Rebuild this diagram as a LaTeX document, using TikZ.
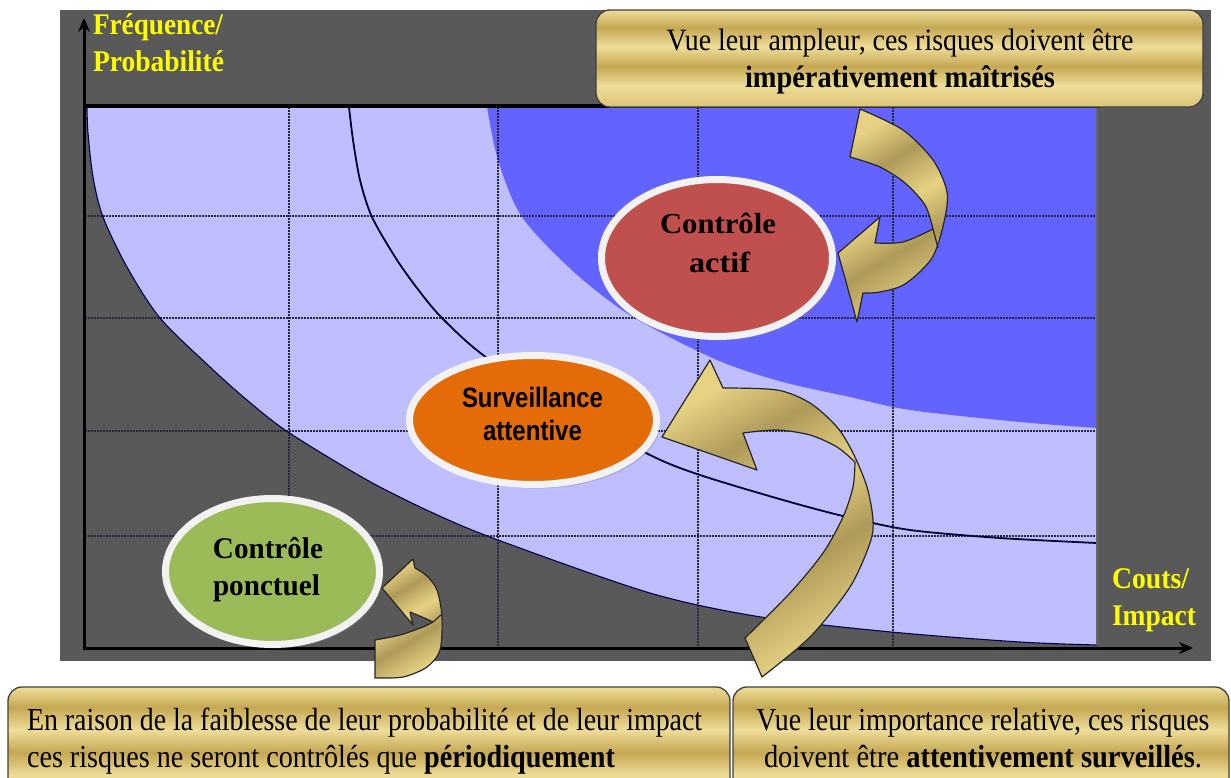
\documentclass[tikz,border=0pt]{standalone}
\usepackage{fontspec}
\setmainfont{Liberation Serif}
\newfontfamily\sansf{Liberation Sans}
\usepackage{graphicx}
\usetikzlibrary{shapes.geometric,shadows,arrows.meta}
\definecolor{bggrey}{HTML}{595959}
\definecolor{lav}{HTML}{BFBFFF}
\definecolor{blu}{HTML}{6363FF}
\definecolor{gridc}{HTML}{26263A}
\definecolor{goldL}{HTML}{EEDD98}
\definecolor{goldD}{HTML}{C5A753}
\definecolor{goldM}{HTML}{DCC476}
\definecolor{arL}{HTML}{E6D282}
\definecolor{arD}{HTML}{AE9A58}
\definecolor{redE}{HTML}{C0504D}
\definecolor{oraE}{HTML}{E36C09}
\definecolor{greE}{HTML}{9BBB59}
\definecolor{rimc}{HTML}{F2F2F2}
\definecolor{axisyel}{HTML}{FFFF00}
\pgfdeclareverticalshading{goldbar}{100bp}{color(0bp)=(goldM); color(25bp)=(goldM); color(36bp)=(goldL); color(46bp)=(goldD); color(56bp)=(goldL); color(66bp)=(goldD); color(75bp)=(goldL); color(100bp)=(goldL)}
\pgfdeclareverticalshading{goldarr}{100bp}{color(0bp)=(arL); color(25bp)=(arL); color(40bp)=(arD); color(52bp)=(arL); color(64bp)=(arD); color(75bp)=(arL); color(100bp)=(arL)}
\begin{document}
\begin{tikzpicture}[x=1bp,y=-1bp,
  goldbox/.style={draw=black!75, line width=1.3bp, rounded corners=14bp, shade, shading=goldbar, inner sep=0},
  blob/.style={ellipse, draw=rimc, line width=7bp, inner sep=0, drop shadow={shadow xshift=3bp, shadow yshift=-4bp, opacity=0.35}},
  txt/.style={inner sep=0, outer sep=0},
  boxtxt/.style={txt, font=\fontsize{32bp}{32bp}\selectfont},
  axtxt/.style={txt, text=axisyel, font=\fontsize{30bp}{30bp}\selectfont\bfseries},
  eltxt/.style={txt, font=\fontsize{29bp}{29bp}\selectfont\bfseries},
  gridline/.style={draw=gridc, line width=1.7bp, dash pattern=on 2bp off 1bp},
  curveline/.style={draw=black!80!blue, line width=1.8bp},
  edgeline/.style={draw=black!70!blue, line width=1.1bp},
  axisline/.style={draw=black, line width=3bp},
  goldarrowst/.style={draw=black!85, line width=1.2bp, shade, shading=goldarr, shading angle=30, line join=round},
  twist/.style={draw=black!85, line width=1.2bp}
]
\useasboundingbox (0,0) rectangle (1231,778);
\clip (0,0) rectangle (1231,778);
\fill[white] (0,0) rectangle (1231,778);
\fill[bggrey] (60,10) rectangle (1211,661);
\def\lowercurve{(1097,645) (1020,642) (891,632) (761,617) (650,593) (498,540) (433,513) (367,480) (288,432) (247,400) (210,367) (160,318) (127,267) (103,217) (93,177) (88,133) (87,108)}
% lavender region
\fill[lav] (87,107) -- (1097,107) -- (1097,645) -- plot[smooth] coordinates {\lowercurve} -- cycle;
% blue region
\fill[blu] (487,107) -- (1097,107) -- (1097,428) -- plot[smooth] coordinates {(1097,428) (1020,422) (910,410) (850,397) (783,382) (717,360) (633,317) (575,273) (522,217) (498,160) (487,107)} -- cycle;
% grid
\foreach \gx in {289,498,698,893} \draw[gridline] (\gx,107) -- (\gx,647);
\foreach \gy in {216,318,431,536} \draw[gridline] (85,\gy) -- (1097,\gy);
% curves
\draw[edgeline] plot[smooth] coordinates {\lowercurve};
\draw[curveline] plot[smooth] coordinates {(349,107) (353,140) (360,180) (372,217) (397,260) (420,292) (442,318) (483,355) (560,406) (650,455) (700,475) (783,500) (847,517) (910,530) (1000,538) (1097,543)};
\draw[draw=black!60, line width=1.2bp] (1097,107) -- (1097,645);
% axes
\coordinate (O) at (84,650);
\coordinate (ytip) at (84,18);
\coordinate (xtip) at (1193,648);
\coordinate (tl) at (84,106);
\coordinate (tr) at (1100,106);
\draw[axisline] (tl) -- (tr);
\draw[axisline, -{Stealth[length=14bp,width=12bp]}] (O) -- (ytip);
\draw[axisline, -{Stealth[length=14bp,width=12bp]}] (84,648) -- (xtip);
% axis labels
\node[axtxt, anchor=base west] (yl1) at (93,35) {\resizebox{130bp}{\height}{Fréquence/}};
\node[axtxt, anchor=base west] (yl2) at (93,72) {\resizebox{131bp}{\height}{Probabilité}};
\node[axtxt, anchor=base west] (xl1) at (1112,588) {\resizebox{77bp}{\height}{Couts/}};
\node[axtxt, anchor=base west] (xl2) at (1112,625) {\resizebox{84bp}{\height}{Impact}};
% boxes
\node[goldbox, minimum width=607bp, minimum height=97bp] (boxtop) at (899.5,58.5) {};
\node[goldbox, minimum width=722bp, minimum height=113bp] (boxbl) at (369,743.5) {};
\node[goldbox, minimum width=496bp, minimum height=113bp] (boxbr) at (981,743.5) {};
\node[boxtxt, anchor=base, font=\fontsize{31bp}{31bp}\selectfont] (t1) at (900,51) {\resizebox{467bp}{\height}{Vue leur ampleur, ces risques doivent être}};
\node[boxtxt, anchor=base, font=\fontsize{31bp}{31bp}\selectfont] (t2) at (900,88) {\resizebox{310bp}{\height}{\textbf{impérativement maîtrisés}}};
\node[boxtxt, anchor=base west] (b1) at (27,730) {\resizebox{675bp}{\height}{En raison de la faiblesse de leur probabilité et de leur impact}};
\node[boxtxt, anchor=base west] (b2) at (27,767) {\resizebox{588bp}{\height}{ces risques ne seront contrôlés que \textbf{périodiquement}}};
\node[boxtxt, anchor=base] (r1) at (983,730) {\resizebox{453bp}{\height}{Vue leur importance relative, ces risques}};
\node[boxtxt, anchor=base] (r2) at (983,767) {\resizebox{438bp}{\height}{doivent être \textbf{attentivement surveillés}.}};
% curved arrows
\path[goldarrowst] plot[smooth] coordinates {(860,109) (903,130) (933,160) (947,192) (944,222) (932,258) (905,284) (880,292) (863,293)} -- (857,322) -- (838,253) -- (880,217) -- (875,243) -- plot[smooth] coordinates {(875,243) (903,242) (933,229)} -- plot[smooth] coordinates {(933,229) (925,205) (905,183) (880,167) (850,157)} -- cycle;
\draw[twist] (933,229) -- (938,248);
\path[goldarrowst] plot[smooth] coordinates {(745,638) (790,593) (823,553) (843,517) (853,487) (855,462)} -- plot[smooth] coordinates {(855,462) (837,447) (810,435) (777,430) (743,433)} -- (757,470) -- (662,437) -- (710,360) -- (723,388) -- plot[smooth] coordinates {(723,388) (777,390) (810,403) (837,427) (853,453) (867,487) (873,520) (870,543) (850,587) (810,637) (762,677)} -- cycle;
\path[goldarrowst] (375,640) -- plot[smooth] coordinates {(375,678) (403,677) (427,667) (440,650) (442,617) (437,590) (427,576) (415,568)} -- (413,559) -- (382,588) -- (413,625) -- (410,612) -- plot[smooth] coordinates {(410,612) (422,617) (433,622)} -- plot[smooth] coordinates {(433,622) (423,627) (400,635) (375,640)} -- cycle;
\draw[twist] (433,622) -- (442,614);
% ellipses
\node[blob, fill=redE, minimum width=231bp, minimum height=157bp] (actif) at (717,258) {};
\node[blob, fill=oraE, minimum width=247bp, minimum height=129bp] (surv) at (533,420) {};
\node[blob, fill=greE, minimum width=214bp, minimum height=146bp] (ponct) at (272.5,571.5) {};
\node[eltxt, anchor=base] (a1) at (718,233) {\resizebox{116bp}{\height}{Contrôle}};
\node[eltxt, anchor=base] (a2) at (719.5,272) {\resizebox{61bp}{\height}{actif}};
\node[eltxt, anchor=base, font=\fontsize{28bp}{28bp}\selectfont\sansf\bfseries] (s1) at (532.5,407) {\resizebox{141bp}{\height}{Surveillance}};
\node[eltxt, anchor=base, font=\fontsize{28bp}{28bp}\selectfont\sansf\bfseries] (s2) at (532.5,440) {\resizebox{99bp}{\height}{attentive}};
\node[eltxt, anchor=base, font=\fontsize{30bp}{30bp}\selectfont\bfseries] (p1) at (268,558) {\resizebox{110bp}{\height}{Contrôle}};
\node[eltxt, anchor=base, font=\fontsize{30bp}{30bp}\selectfont\bfseries] (p2) at (266.5,595) {\resizebox{107bp}{\height}{ponctuel}};
\end{tikzpicture}
\end{document}
